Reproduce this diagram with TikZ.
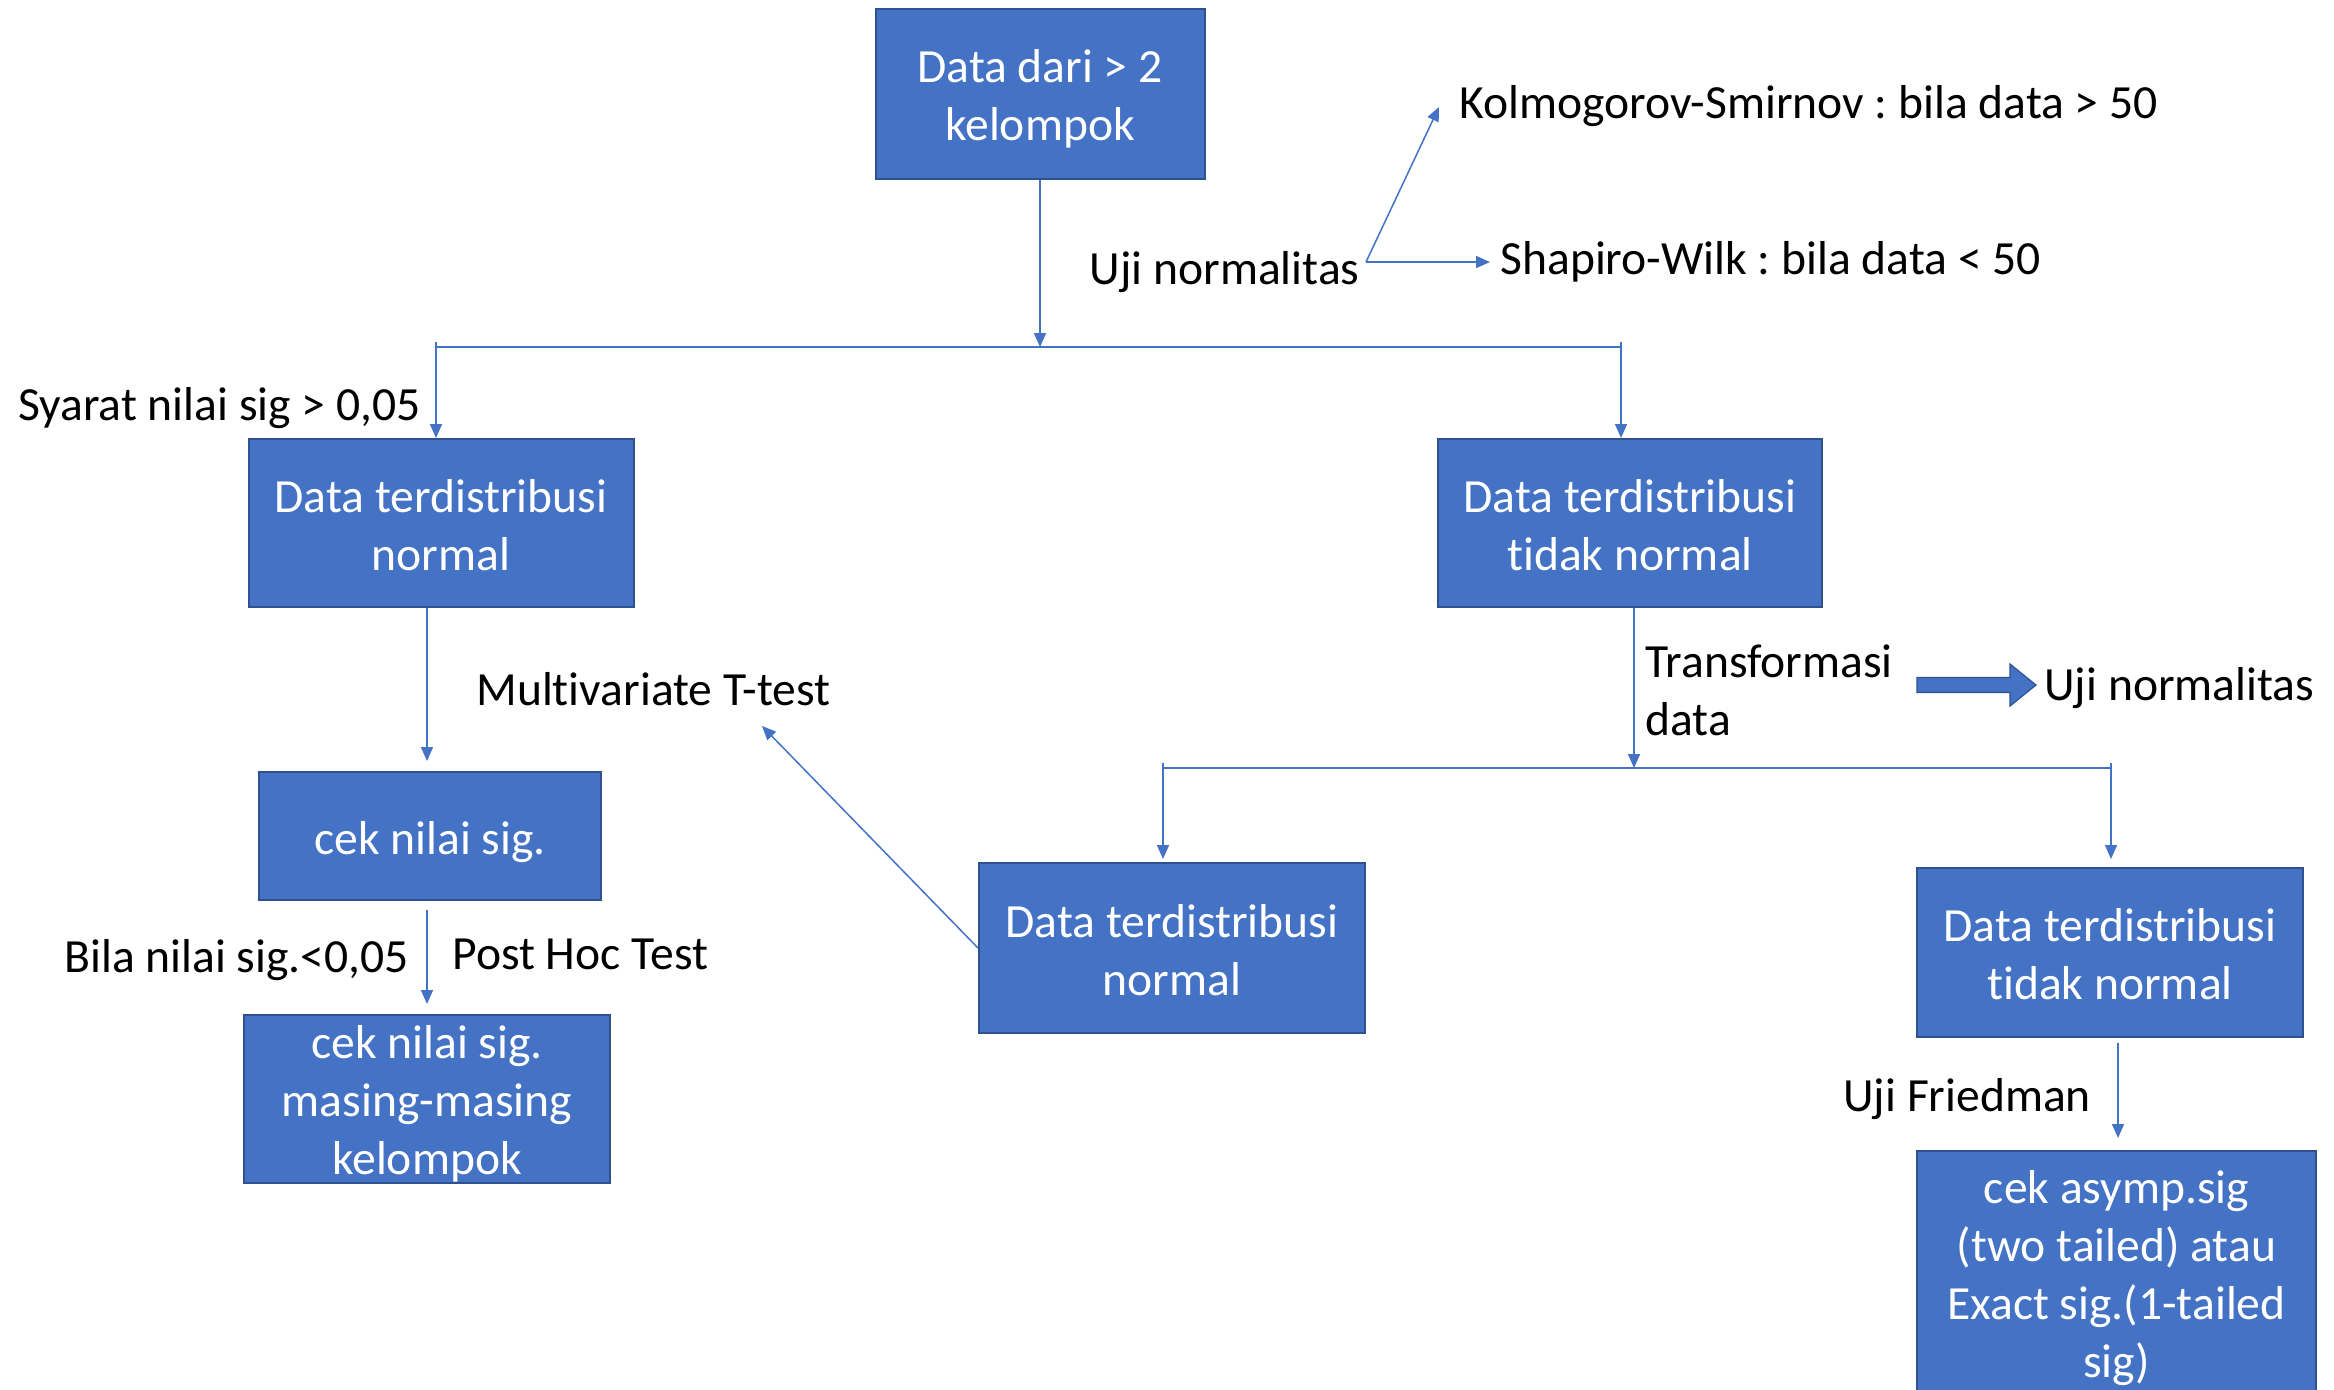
\documentclass[tikz,border=0pt]{standalone}
\usepackage{fontspec}
\setmainfont[Ligatures=NoCommon]{Carlito}
\usetikzlibrary{arrows.meta,calc}
\definecolor{boxblue}{HTML}{4472C4}
\definecolor{boxborder}{HTML}{2F528F}
\definecolor{linecol}{HTML}{4472C4}
\tikzset{
  box/.style={draw=boxborder, fill=boxblue, line width=1pt, inner sep=0pt},
  boxtxt/.style={text=white, align=center, inner sep=0pt, font=\fontsize{23.8}{29}\selectfont\frenchspacing},
  lbl/.style={inner sep=0pt, text=black, font=\fontsize{23.8}{29}\selectfont\frenchspacing},
  arr/.style={draw=linecol, line width=0.75pt, -{Triangle[length=7pt,width=6pt]}},
  ln/.style={draw=linecol, line width=0.6pt},
}
\begin{document}
\begin{tikzpicture}[x=0.5pt,y=-0.5pt]
\clip (0,0) rectangle (2334,1389);
\fill[white] (0,0) rectangle (2334,1389);

% boxes
\node[box, minimum width=164.5pt, minimum height=85pt] (box1) at (1040,94) {};
\node[box, minimum width=192.5pt, minimum height=84pt] (lnorm) at (441,523) {};
\node[box, minimum width=171pt, minimum height=64pt] (cek1) at (430,836) {};
\node[box, minimum width=183pt, minimum height=84pt] (cek2) at (427,1099) {};
\node[box, minimum width=192pt, minimum height=84pt] (rtn) at (1630,523) {};
\node[box, minimum width=193pt, minimum height=85pt] (mnorm) at (1172,948) {};
\node[box, minimum width=193pt, minimum height=84.5pt] (brtn) at (2110,952) {};
\node[box, minimum width=199.5pt, minimum height=123pt] (asym) at (2116.5,1274) {};

% box texts
\node[boxtxt] (box1t) at ($(box1.center)+(0,4.5)$) {Data dari > 2\\kelompok};
\node[boxtxt] (lnormt) at ($(lnorm.center)+(0,2)$) {Data terdistribusi\\normal};
\node[boxtxt] (cek1t) at ($(cek1.center)+(0,6)$) {cek nilai sig.};
\node[boxtxt] (cek2t) at ($(cek2.center)+(0,4.5)$) {cek nilai sig.\\masing-masing\\kelompok};
\node[boxtxt] (rtnt) at ($(rtn.center)+(0,2)$) {Data terdistribusi\\tidak normal};
\node[boxtxt] (mnormt) at ($(mnorm.center)+(0,2)$) {Data terdistribusi\\normal};
\node[boxtxt] (brtnt) at ($(brtn.center)+(0,2.5)$) {Data terdistribusi\\tidak normal};
\node[boxtxt] (asymt) at ($(asym.center)+(0,4)$) {cek asymp.sig\\(two tailed) atau\\Exact sig.(1-tailed\\sig)};

% labels
\node[lbl, anchor=east] (un1) at (1360,272) {Uji normalitas};
\node[lbl, anchor=west] (ks) at (1459,106) {Kolmogorov-Smirnov : bila data > 50};
\node[lbl, anchor=west] (sw) at (1500,262) {Shapiro-Wilk : bila data < 50};
\node[lbl, anchor=west] (syarat) at (18,408) {Syarat nilai sig > 0,05};
\node[lbl, anchor=west] (mvt) at (476,689) {Multivariate T-test};
\node[lbl, anchor=west] (bila) at (64,960) {Bila nilai sig.<0,05};
\node[lbl, anchor=west] (phoc) at (452,954) {Post Hoc Test};
\node[lbl, anchor=west, align=left] (trans) at (1645,690) {Transformasi\\data};
\node[lbl, anchor=west] (un2) at (2044,688) {Uji normalitas};
\node[lbl, anchor=west] (fried) at (1843,1099) {Uji Friedman};

% coordinates
\coordinate (unr) at (1366,262);
\coordinate (kstip) at (1439,107);
\coordinate (swtip) at (1490,262);
\coordinate (bus1m) at (1040,347);
\coordinate (bus1l) at (436,347);
\coordinate (bus1r) at (1621,347);
\coordinate (bus2m) at (1634,768);
\coordinate (bus2l) at (1163,768);
\coordinate (bus2r) at (2111,768);
\coordinate (mvtip) at (762,726);

% connectors
\draw[arr] (unr) -- (kstip);
\draw[arr] (unr) -- (swtip);
\draw[arr] (box1.south) -- (bus1m);
\draw[ln] ($(bus1l)+(0,-5)$) -- (bus1l) -- (bus1r) -- ($(bus1r)+(0,-5)$);
\draw[arr] (bus1l) -- (bus1l |- lnorm.north);
\draw[arr] (bus1r) -- (bus1r |- rtn.north);

\draw[arr, shorten >=5pt] ([xshift=-7pt]lnorm.south) -- ([xshift=-1.5pt]cek1.north);
\draw[arr, shorten <=4.5pt, shorten >=5pt] ([xshift=-1.5pt]cek1.south) -- (cek2.north);

\draw[arr] (mnorm.west) -- (mvtip);

\draw[arr] ([xshift=2pt]rtn.south) -- (bus2m);
\draw[ln] ($(bus2l)+(0,-5)$) -- (bus2l) -- (bus2r) -- ($(bus2r)+(0,-5)$);
\draw[arr] (bus2l) -- (bus2l |- 0,859);
\draw[arr] (bus2r) -- (bus2r |- 0,859);
\draw[arr, shorten <=2.5pt, shorten >=6pt] ([xshift=4pt]brtn.south) -- ([xshift=0.75pt]asym.north);

% thick arrow
\draw[fill=boxblue, draw=boxborder, line width=0.6pt]
  (1917,677.5) -- (2010,677.5) -- (2010,664) -- (2036,685) -- (2010,706) -- (2010,692.5) -- (1917,692.5) -- cycle;
\end{tikzpicture}
\end{document}
